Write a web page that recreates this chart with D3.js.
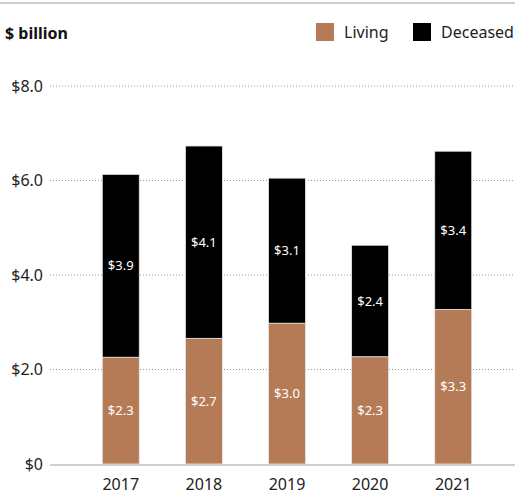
<!DOCTYPE html>
<html>
<head>
<meta charset="utf-8">
<script src="https://cdn.jsdelivr.net/npm/d3@7"></script>
<style>
  body { margin: 0; background: #fff; }
  svg { display: block; font-family: "Noto Sans", "Open Sans", sans-serif; }
</style>
</head>
<body>
<div id="chart"></div>
<script>
// Data
const years = ["2017", "2018", "2019", "2020", "2021"];
const living = [2.26, 2.66, 2.98, 2.27, 3.27];
const deceased = [3.87, 4.07, 3.07, 2.36, 3.35];
const yTicks = [0, 2, 4, 6, 8];
const seriesNames = ["Living", "Deceased"];
const colors = ["#b57b56", "#000000"];

const width = 515;
const height = 497;
const margin = { top: 86, right: 0, bottom: 33, left: 50 };

const svg = d3.select("#chart")
  .append("svg")
  .attr("width", width)
  .attr("height", height);

// Top rule
svg.append("line")
  .attr("x1", 0).attr("x2", width)
  .attr("y1", 3).attr("y2", 3)
  .attr("stroke", "#bdbdbd")
  .attr("stroke-width", 1.5);

// Scales
const x = d3.scaleBand()
  .domain(years)
  .range([79, 495])
  .paddingInner(0.555)
  .paddingOuter(0.28);

const y = d3.scaleLinear()
  .domain([0, 8])
  .range([464, 86]);

// Gridlines
svg.append("g")
  .selectAll("line")
  .data(yTicks.filter(d => d > 0))
  .enter()
  .append("line")
  .attr("x1", margin.left)
  .attr("x2", width)
  .attr("y1", d => y(d))
  .attr("y2", d => y(d))
  .attr("stroke", "#9a9a9a")
  .attr("stroke-width", 1)
  .attr("stroke-dasharray", "1,2");

// Y labels
svg.append("g")
  .selectAll("text")
  .data(yTicks)
  .enter()
  .append("text")
  .attr("x", 43)
  .attr("y", d => y(d))
  .attr("dy", "0.35em")
  .attr("text-anchor", "end")
  .style("font-size", "16px")
  .style("fill", "#222")
  .text(d => d === 0 ? "$0" : "$" + d.toFixed(1));

// Stacked data
const table = years.map((yr, i) => ({ year: yr, Living: living[i], Deceased: deceased[i] }));
const stacked = d3.stack().keys(seriesNames)(table);

const layers = svg.append("g")
  .selectAll("g")
  .data(stacked)
  .enter()
  .append("g")
  .attr("fill", (d, i) => colors[i]);

layers.selectAll("rect")
  .data(d => d)
  .enter()
  .append("rect")
  .attr("x", d => x(d.data.year))
  .attr("y", d => y(d[1]))
  .attr("width", x.bandwidth())
  .attr("height", d => y(d[0]) - y(d[1]))
  .attr("stroke", "#e8e8e8")
  .attr("stroke-width", 0.8);

layers.selectAll("text")
  .data(d => d)
  .enter()
  .append("text")
  .attr("x", d => x(d.data.year) + x.bandwidth() / 2)
  .attr("y", d => (y(d[0]) + y(d[1])) / 2)
  .attr("dy", "0.35em")
  .attr("text-anchor", "middle")
  .style("font-size", "13px")
  .style("fill", "#fff")
  .text(d => "$" + (d[1] - d[0]).toFixed(1));

// Baseline
svg.append("line")
  .attr("x1", margin.left)
  .attr("x2", width)
  .attr("y1", y(0) + 1)
  .attr("y2", y(0) + 1)
  .attr("stroke", "#cfcfcf")
  .attr("stroke-width", 2);

// X labels
svg.append("g")
  .selectAll("text")
  .data(years)
  .enter()
  .append("text")
  .attr("x", d => x(d) + x.bandwidth() / 2)
  .attr("y", 490)
  .attr("text-anchor", "middle")
  .style("font-size", "16px")
  .style("fill", "#222")
  .text(d => d);

// Unit label
svg.append("text")
  .attr("x", 5)
  .attr("y", 39)
  .style("font-size", "16px")
  .style("font-weight", "bold")
  .style("fill", "#111")
  .text("$ billion");

// Legend
const legendX = [316, 413];
const legend = svg.append("g")
  .selectAll("g")
  .data(seriesNames)
  .enter()
  .append("g")
  .attr("transform", (d, i) => `translate(${legendX[i]}, 23)`);

legend.append("rect")
  .attr("width", 18)
  .attr("height", 18)
  .attr("fill", (d, i) => colors[i]);

legend.append("text")
  .attr("x", 28)
  .attr("y", 9)
  .attr("dy", "0.35em")
  .style("font-size", "16px")
  .style("fill", "#222")
  .text(d => d);
</script>
</body>
</html>
